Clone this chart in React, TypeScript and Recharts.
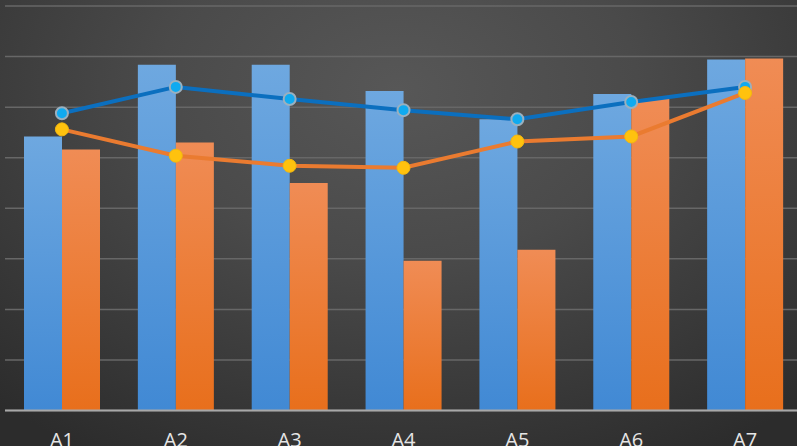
import { Bar, CartesianGrid, ComposedChart, Line, XAxis, YAxis } from 'recharts';

const categories = ['A1', 'A2', 'A3', 'A4', 'A5', 'A6', 'A7'];
const blueBars = [271, 342, 342, 316, 288, 313, 347];
const orangeBars = [258, 265, 225, 148, 159, 308, 348];
const blueLine = [294, 320, 308, 297, 288, 305, 320];
const orangeLine = [278, 252, 242, 240, 266, 271, 314];
const yTicks = [0, 50, 100, 150, 200, 250, 300, 350, 400];

const data = categories.map((name, i) => ({
  name,
  blueBar: blueBars[i],
  orangeBar: orangeBars[i],
  blueLine: blueLine[i],
  orangeLine: orangeLine[i],
}));

export default function App() {
  return (
    <div
      style={{
        width: 797,
        height: 446,
        overflow: 'hidden',
        background: 'radial-gradient(ellipse 75% 95% at 50% 20%, #575757 0%, #4a4a4a 40%, #2c2c2c 100%)',
      }}
    >
      <style>{'body{margin:0}'}</style>
      <ComposedChart
        width={802}
        height={446}
        data={data}
        margin={{ top: 6, right: 0, left: 5, bottom: 0 }}
        barGap={0}
      >
        <defs>
          <linearGradient id="gBlue" x1="0" y1="0" x2="0" y2="1">
            <stop offset="0%" stopColor="#6ea8e0" />
            <stop offset="100%" stopColor="#4189d4" />
          </linearGradient>
          <linearGradient id="gOrange" x1="0" y1="0" x2="0" y2="1">
            <stop offset="0%" stopColor="#f08c55" />
            <stop offset="100%" stopColor="#e86f1c" />
          </linearGradient>
        </defs>
        <CartesianGrid vertical={false} stroke="#676767" strokeWidth={1.5} />
        <XAxis
          dataKey="name"
          height={35.5}
          tickLine={false}
          axisLine={{ stroke: '#a8a8a8', strokeWidth: 2 }}
          tick={{ fill: '#e6e6e6', fontSize: 20, fontFamily: 'Open Sans' }}
          dy={14}
        />
        <YAxis hide domain={[0, 400]} ticks={yTicks} />
        <Bar dataKey="blueBar" fill="url(#gBlue)" barSize={38} isAnimationActive={false} />
        <Bar dataKey="orangeBar" fill="url(#gOrange)" barSize={38} isAnimationActive={false} />
        <Line
          dataKey="blueLine"
          type="linear"
          stroke="#0b6fbf"
          strokeWidth={4}
          dot={{ r: 6, fill: '#10aaf0', stroke: '#9ab0bf', strokeWidth: 2 }}
          isAnimationActive={false}
        />
        <Line
          dataKey="orangeLine"
          type="linear"
          stroke="#ea7b30"
          strokeWidth={4}
          dot={{ r: 6.5, fill: '#ffc20e', stroke: '#f3b80f', strokeWidth: 1 }}
          isAnimationActive={false}
        />
      </ComposedChart>
    </div>
  );
}
